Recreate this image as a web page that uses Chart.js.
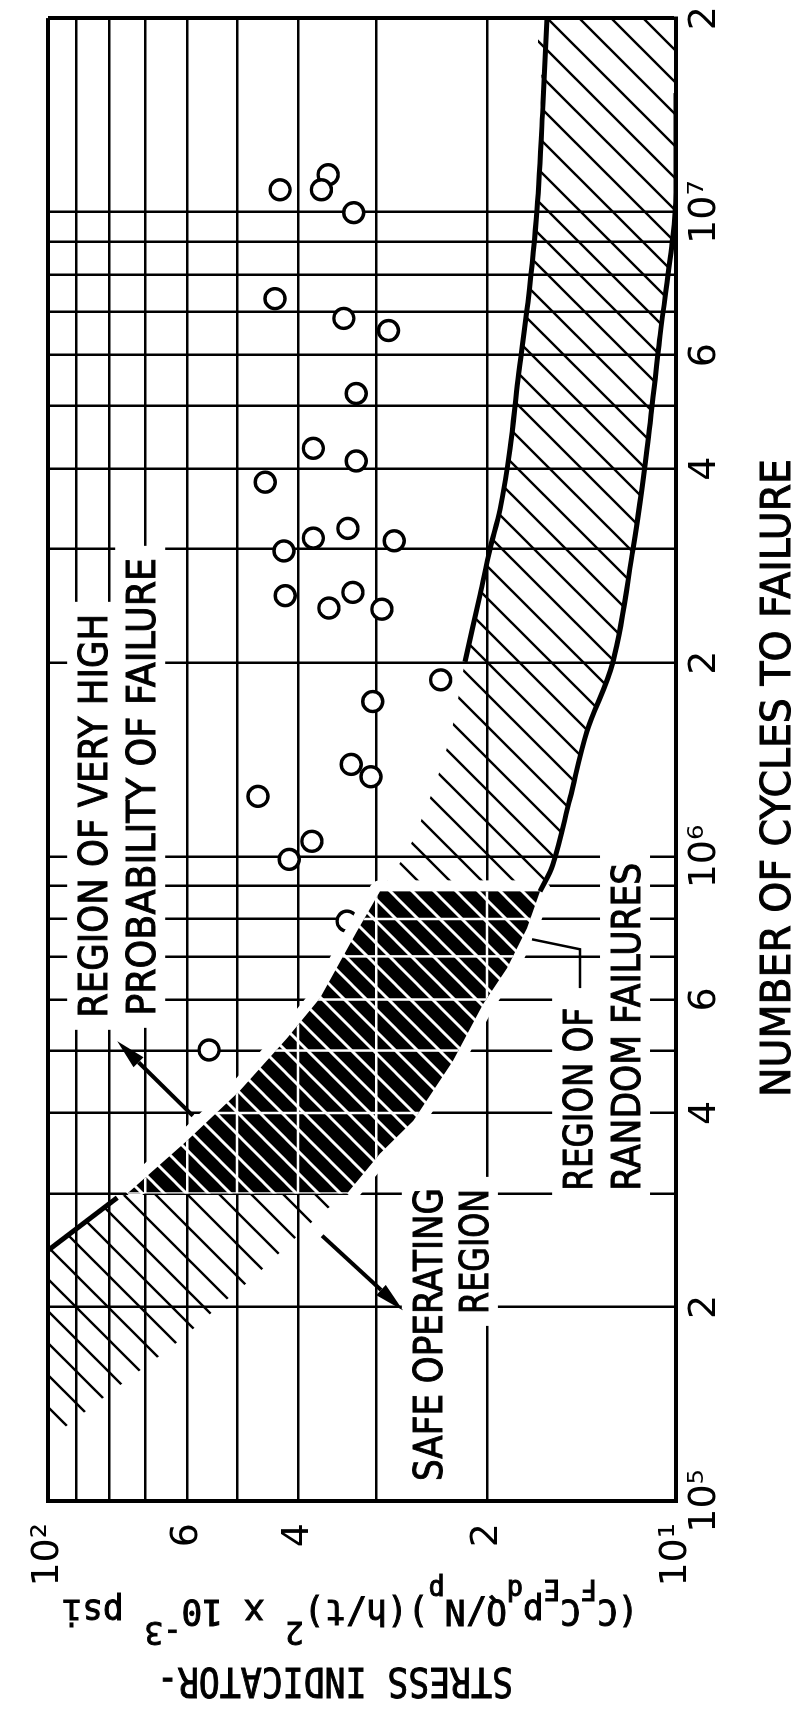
<!DOCTYPE html>
<html lang="en">
<head>
<meta charset="utf-8">
<title>Stress indicator vs. number of cycles to failure</title>
<style>
  html, body { margin: 0; padding: 0; background: #fff; }
  body { width: 796px; height: 1711px; overflow: hidden; position: relative; }
  /* the chart is laid out landscape and turned a quarter turn counter-clockwise */
  #turn { position: absolute; left: 0; top: 0; width: 1711px; height: 796px;
          transform-origin: 0 0; transform: translate(0, 1711px) rotate(-90deg); }
  #chart { display: block; width: 1711px; height: 796px; }
</style>
<script src="https://cdn.jsdelivr.net/npm/chart.js@4.4.1/dist/chart.umd.min.js"></script>
</head>
<body>
<div id="turn"><canvas id="chart" width="1711" height="796"></canvas></div>
<script>
// ---------- axes ----------
const cycleTicks = [1e5, 2e5, 3e5, 4e5, 5e5, 6e5, 7e5, 8e5, 9e5,
                    1e6, 2e6, 3e6, 4e6, 5e6, 6e6, 7e6, 8e6, 9e6, 1e7, 2e7];
const cycleTickLabels = ['10⁵', '2', '', '4', '', '6', '', '', '',
                         '10⁶', '2', '', '4', '', '6', '', '', '', '10⁷', '2'];
const stressTicks = [10, 20, 30, 40, 50, 60, 70, 80, 90, 100];
const stressTickLabels = ['10¹', '2', '', '4', '', '6', '', '', '', '10²'];

// ---------- test results (cycles to failure, stress indicator) ----------
const failureCycles = [1.083e7, 1.143e7, 1.083e7, 9.98e6, 7.34e6, 6.84e6, 6.55e6, 5.23e6,
                       4.30e6, 4.11e6, 3.81e6, 3.23e6, 3.12e6, 2.98e6, 3.09e6, 2.57e6,
                       2.54e6, 2.43e6, 2.42e6, 1.88e6, 1.74e6, 1.39e6, 1.33e6, 1.24e6,
                       1.056e6, 9.90e5, 5.01e5, 7.94e5];
const failureStress = [42.7, 35.8, 36.7, 32.6, 43.5, 33.8, 28.7, 32.3,
                       37.8, 32.3, 45.1, 33.3, 37.8, 42.1, 28.1, 32.7,
                       41.9, 35.7, 29.4, 23.7, 30.4, 32.9, 30.6, 46.3,
                       38.0, 41.3, 55.4, 33.4];

// ---------- scatter band: high-stress edge (increasing cycles) ----------
const upperCycles = [2.448e5, 2.956e5, 3.0e5, 3.62e5, 4.33e5, 5.23e5, 6.03e5, 7.66e5, 8.83e5,
                     1.019e6, 1.204e6, 1.322e6, 1.58e6, 2.005e6, 2.55e6, 3.00e6, 3.46e6,
                     4.29e6, 5.50e6, 7.24e6, 1.009e7, 1.477e7, 2e7];
const upperStress = [100, 77.6, 74.8, 60.1, 49.5, 41.6, 36.9, 32.2, 29.6,
                     26.8, 24.9, 24.0, 22.73, 21.68, 20.51, 19.78, 19.06,
                     18.38, 17.85, 17.21, 16.65, 16.28, 16.05];

// ---------- scatter band: low-stress edge (decreasing cycles) ----------
const lowerCycles = [2e7, 1.53e7, 1.072e7, 9.19e6, 6.44e6, 4.29e6, 3.00e6, 2.005e6, 1.563e6,
                     1.231e6, 9.72e5, 8.83e5, 7.74e5, 6.71e5, 5.90e5, 4.82e5, 3.89e5, 3.46e5,
                     3.0e5, 2.80e5, 2.49e5, 2.22e5, 2.0e5, 1.788e5, 1.607e5, 1.444e5, 1.302e5, 1.243e5];
const lowerStress = [10, 10, 10, 10.11, 10.60, 11.12, 11.71, 12.60, 13.86,
                     14.75, 15.70, 16.47, 17.27, 18.58, 20.29, 22.65, 26.2, 29.6,
                     33.4, 36.6, 41.6, 47.2, 53.6, 61.2, 70.6, 81.8, 94.0, 100];

// cycle limits of the solid (overlap) zone and of the drawn edge curves
const overlapFrom = 3.0e5, overlapTo = 8.83e5;
const upperSolidEnd = 2.956e5, upperCurveFrom = 2.005e6;
const lowerCurveFrom = 8.83e5, lowerCurveTo = 1.53e7;

// ---------- annotation texts ----------
const noteLines = ['REGION OF VERY HIGH', 'PROBABILITY OF FAILURE',
                   'SAFE OPERATING', 'REGION',
                   'REGION OF', 'RANDOM FAILURES'];
const xTitle = 'NUMBER OF CYCLES TO FAILURE';
const yTitleTop = 'STRESS INDICATOR-';
// [text, 0 = normal, -1 = subscript, 1 = superscript]
const yTitleFormula = [['(C', 0], ['F', -1], ['C', 0], ['E', -1], ['p', 0], ['d', -1],
                       ['Q/N', 0], ['p', -1], [')(h/t)', 0], ['2', 1], [' x 10', 0],
                       ['-3', 1], [' psi', 0]];

// ---------- layout of the annotations (anchor = baseline point, data units) ----------
const noteLayout = [
  { n: 5.62e5, s: 80.5,  align: 'left',  width: 404 },
  { n: 5.66e5, s: 67.5,  align: 'left',  width: 458 },
  { n: 3.06e5, s: 23.6,  align: 'right', width: 293 },
  { n: 3.05e5, s: 19.93, align: 'right', width: 125 },
  { n: 3.03e5, s: 13.6,  align: 'left',  width: 183 },
  { n: 3.03e5, s: 11.41, align: 'left',  width: 328 }
];
const arrowLayout = [
  { from: [3.96e5, 58.8], to: [5.17e5, 77.6] },
  { from: [2.58e5, 36.6], to: [1.976e5, 27.2] }
];
const leaderLayout = [[6.25e5, 14.22], [7.18e5, 14.22], [7.44e5, 16.95]];

// ---------- derived point lists ----------
const toXY = (ns, ss) => ns.map((n, i) => ({ x: n, y: ss[i] }));
const upperPts = toXY(upperCycles, upperStress);
const lowerPts = toXY(lowerCycles, lowerStress);
const bandPoly = upperPts.concat(lowerPts);
const overlapPoly = upperPts.filter(p => p.x >= overlapFrom && p.x <= overlapTo)
  .concat(lowerPts.filter(p => p.x >= overlapFrom && p.x <= overlapTo));
const upperSolid = upperPts.filter(p => p.x <= upperSolidEnd);
const upperCurve = upperPts.filter(p => p.x >= upperCurveFrom);
const lowerCurve = lowerPts.filter(p => p.x >= lowerCurveFrom && p.x <= lowerCurveTo);

// ---------- hatch patterns ----------
function hatch(size, width, ink, paper) {
  const c = document.createElement('canvas');
  c.width = c.height = size;
  const g = c.getContext('2d');
  if (paper) { g.fillStyle = paper; g.fillRect(0, 0, size, size); }
  g.strokeStyle = ink; g.lineWidth = width;
  g.beginPath();
  g.moveTo(0, size); g.lineTo(size, 0);
  g.moveTo(-size / 2, size / 2); g.lineTo(size / 2, -size / 2);
  g.moveTo(size / 2, size * 1.5); g.lineTo(size * 1.5, size / 2);
  g.stroke();
  return g.createPattern(c, 'repeat');
}
const bandHatch = hatch(32, 2.4, '#000', null);
const overlapHatch = hatch(22, 3, '#fff', '#000');

const NONE = 'rgba(0,0,0,0)';
const OVERLAP_INDEX = 3;
const SMOOTH = 0.35;

const datasets = [
  { data: bandPoly, fill: 'shape', backgroundColor: bandHatch, borderColor: NONE, borderWidth: 0,
    pointRadius: 0, tension: SMOOTH, order: 10 },
  { data: toXY(failureCycles, failureStress), showLine: false, pointRadius: 10, pointBorderWidth: 3.4,
    pointBackgroundColor: '#fff', pointBorderColor: '#000', order: 9 },
  { data: overlapPoly, fill: false, borderColor: '#fff', borderWidth: 22, borderJoinStyle: 'round',
    pointRadius: 0, tension: 0, order: 8 },
  { data: overlapPoly, fill: 'shape', backgroundColor: overlapHatch, borderColor: NONE, borderWidth: 0,
    pointRadius: 0, tension: 0, order: 7 },
  { data: upperSolid, fill: false, borderColor: '#000', borderWidth: 5, pointRadius: 0, tension: 0, order: 1 },
  { data: upperCurve, fill: false, borderColor: '#000', borderWidth: 5, pointRadius: 0, tension: SMOOTH, order: 1 },
  { data: lowerCurve, fill: false, borderColor: '#000', borderWidth: 5, pointRadius: 0, tension: SMOOTH, order: 1 }
];

// white grid lines running through the solid overlap zone
const overlapGrid = {
  id: 'overlapGrid',
  afterDatasetDraw(chart, args) {
    if (args.index !== OVERLAP_INDEX) return;
    const { ctx, chartArea: a } = chart;
    const xs = chart.scales.x, ys = chart.scales.y;
    ctx.save();
    ctx.beginPath();
    overlapPoly.forEach((p, i) => {
      const X = xs.getPixelForValue(p.x), Y = ys.getPixelForValue(p.y);
      if (i) ctx.lineTo(X, Y); else ctx.moveTo(X, Y);
    });
    ctx.closePath();
    ctx.clip();
    ctx.strokeStyle = '#fff';
    ctx.lineWidth = 2.5;
    ctx.beginPath();
    cycleTicks.forEach(v => { const X = xs.getPixelForValue(v); ctx.moveTo(X, a.top); ctx.lineTo(X, a.bottom); });
    stressTicks.forEach(v => { const Y = ys.getPixelForValue(v); ctx.moveTo(a.left, Y); ctx.lineTo(a.right, Y); });
    ctx.stroke();
    ctx.restore();
  }
};

const NOTE_FONT = '39px "DejaVu Sans", sans-serif';
const NOTE_CAP = 28;

// lettering: fill plus a thin outline for the heavier ink weight
function letter(ctx, text, x, y) {
  ctx.fillText(text, x, y);
  ctx.strokeText(text, x, y);
}

function arrow(ctx, x0, y0, x1, y1) {
  const ang = Math.atan2(y1 - y0, x1 - x0), len = 30, half = 7;
  const bx = x1 - len * Math.cos(ang), by = y1 - len * Math.sin(ang);
  ctx.lineWidth = 4;
  ctx.beginPath(); ctx.moveTo(x0, y0); ctx.lineTo(bx, by); ctx.stroke();
  ctx.beginPath();
  ctx.moveTo(x1, y1);
  ctx.lineTo(bx + half * Math.sin(ang), by - half * Math.cos(ang));
  ctx.lineTo(bx - half * Math.sin(ang), by + half * Math.cos(ang));
  ctx.closePath(); ctx.fill();
}

const annotations = {
  id: 'annotations',
  afterDatasetsDraw(chart) {
    const { ctx } = chart;
    const xs = chart.scales.x, ys = chart.scales.y;
    const P = (n, s) => [xs.getPixelForValue(n), ys.getPixelForValue(s)];
    ctx.save();
    ctx.font = NOTE_FONT;
    const boxes = noteLayout.map(l => {
      const [x, y] = P(l.n, l.s);
      const x0 = l.align === 'left' ? x : x - l.width;
      return { x, y, x0, x1: x0 + l.width };
    });
    ctx.fillStyle = '#fff';
    boxes.forEach(b => ctx.fillRect(b.x0 - 12, b.y - NOTE_CAP - 12, b.x1 - b.x0 + 24, NOTE_CAP + 22));
    ctx.fillStyle = '#000';
    ctx.strokeStyle = '#000';
    ctx.textBaseline = 'alphabetic';
    noteLayout.forEach((l, i) => {
      const b = boxes[i];
      const w = ctx.measureText(noteLines[i]).width;
      ctx.save();
      ctx.translate(b.x, b.y);
      ctx.scale(l.width / w, 1);
      ctx.textAlign = l.align;
      ctx.lineWidth = 1;
      letter(ctx, noteLines[i], 0, 0);
      ctx.restore();
    });
    arrowLayout.forEach(a => {
      const [x0, y0] = P(a.from[0], a.from[1]);
      const [x1, y1] = P(a.to[0], a.to[1]);
      arrow(ctx, x0, y0, x1, y1);
    });
    ctx.lineWidth = 2.5;
    ctx.beginPath();
    leaderLayout.forEach((p, i) => { const [x, y] = P(p[0], p[1]); if (i) ctx.lineTo(x, y); else ctx.moveTo(x, y); });
    ctx.stroke();
    ctx.restore();
  }
};

// axis titles: cycles title under the axis, stress title with typed subscripts / superscripts
const axisTitles = {
  id: 'axisTitles',
  afterDraw(chart) {
    const { ctx, chartArea: a } = chart;
    ctx.save();
    ctx.fillStyle = '#000';
    ctx.strokeStyle = '#000';
    ctx.lineWidth = 1;
    ctx.textBaseline = 'alphabetic';

    // cycles axis title
    ctx.save();
    ctx.font = '40px "DejaVu Sans", sans-serif';
    ctx.textAlign = 'center';
    const tw = ctx.measureText(xTitle).width;
    ctx.translate(a.left + 723, a.bottom + 114);
    ctx.scale(638 / tw, 1);
    letter(ctx, xTitle, 0, 0);
    ctx.restore();

    ctx.textAlign = 'left';
    // stress title, first line
    ctx.save();
    ctx.translate(a.left - 167, a.top + 287);
    ctx.rotate(-Math.PI / 2);
    ctx.font = '40px "DejaVu Sans Mono", monospace';
    const w = ctx.measureText(yTitleTop).width;
    ctx.scale(356 / w, 1);
    letter(ctx, yTitleTop, -w / 2, 0);
    ctx.restore();

    // stress title, second line
    const fonts = { 0: '36px "DejaVu Sans Mono", monospace', '-1': '28px "DejaVu Sans Mono", monospace',
                    1: '32px "DejaVu Sans Mono", monospace' };
    const shift = { 0: 0, '-1': 20, 1: -22 };
    let total = 0;
    yTitleFormula.forEach(([t, k]) => { ctx.font = fonts[k]; total += ctx.measureText(t).width; });
    ctx.translate(a.left - 99, a.top + 302);
    ctx.rotate(-Math.PI / 2);
    ctx.scale(577 / total, 1);
    let x = -total / 2;
    yTitleFormula.forEach(([t, k]) => {
      ctx.font = fonts[k];
      letter(ctx, t, x, shift[k]);
      x += ctx.measureText(t).width;
    });
    ctx.restore();
  }
};

Chart.defaults.font.family = '"DejaVu Sans", sans-serif';
Chart.defaults.color = '#000';

new Chart(document.getElementById('chart'), {
  type: 'line',
  data: { datasets },
  options: {
    responsive: false,
    devicePixelRatio: 1,
    animation: false,
    events: [],
    layout: { padding: { top: 48, right: 15, left: 0, bottom: 0 } },
    plugins: { legend: { display: false }, tooltip: { enabled: false } },
    scales: {
      x: {
        type: 'logarithmic', min: 1e5, max: 2e7,
        afterBuildTicks(scale) { scale.ticks = cycleTicks.map(v => ({ value: v })); },
        afterFit(scale) { scale.height = 120; },
        ticks: { autoSkip: false, maxRotation: 0, minRotation: 0, padding: 6, color: '#000',
                 font: { size: 38 }, callback: (v, i) => cycleTickLabels[i] },
        grid: { color: '#000', drawTicks: false,
                lineWidth: c => (c.tick && c.tick.value === 2e7) ? 4 : 2.5 },
        border: { display: true, color: '#000', width: 4 }
      },
      y: {
        type: 'logarithmic', min: 10, max: 100,
        afterBuildTicks(scale) { scale.ticks = stressTicks.map(v => ({ value: v })); },
        afterFit(scale) { scale.width = 210; },
        ticks: { autoSkip: false, padding: 22, color: '#000', font: { size: 38 },
                 callback: (v, i) => stressTickLabels[i] },
        grid: { color: '#000', drawTicks: false,
                lineWidth: c => (c.tick && c.tick.value === 100) ? 4 : 2.5 },
        border: { display: true, color: '#000', width: 4 }
      }
    }
  },
  plugins: [overlapGrid, annotations, axisTitles]
});
</script>
</body>
</html>
